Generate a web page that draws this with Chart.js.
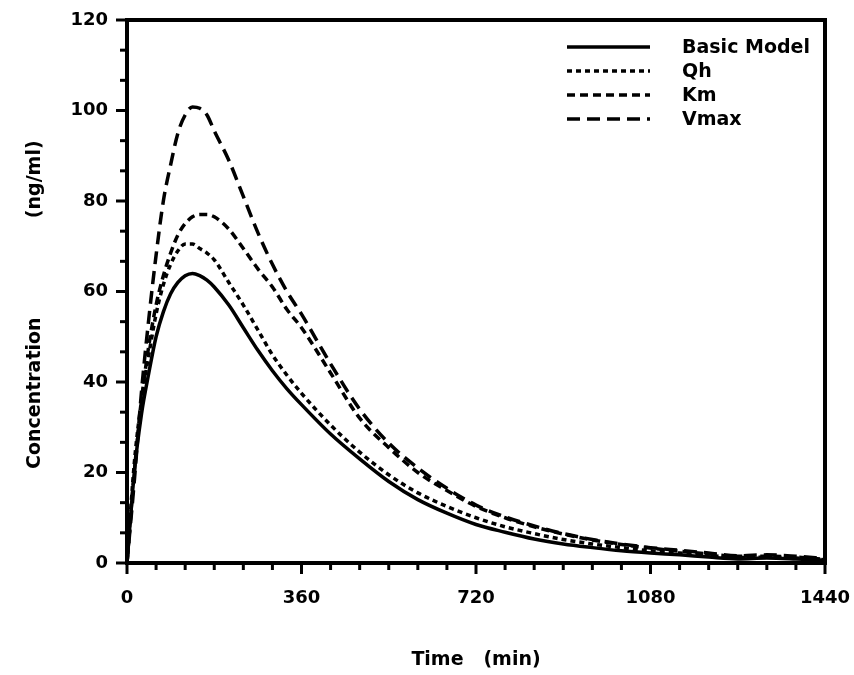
<!DOCTYPE html>
<html>
<head>
<meta charset="utf-8">
<script src="https://cdn.jsdelivr.net/npm/chart.js@4.4.1/dist/chart.umd.min.js"></script>
<style>
  html, body { margin: 0; padding: 0; background: #fff; }
</style>
</head>
<body>
<canvas id="concChart" width="854" height="675"></canvas>
<script>
// time points (min) and concentrations (ng/ml)
const timeMin = [0, 15, 30, 45, 60, 75, 90, 105, 120, 135, 150, 165, 180, 210, 240, 270, 300, 330, 360,
  420, 480, 540, 600, 660, 720, 780, 840, 900, 960, 1020, 1080, 1140, 1200, 1260, 1320, 1380, 1440];
const basicModel = [0, 20, 33, 42, 50, 55.5, 59.5, 62, 63.5, 64, 63.5, 62.5, 61, 57, 52, 47, 42.5, 38.5, 35,
  28.5, 23, 18, 14, 11, 8.5, 6.8, 5.3, 4.2, 3.4, 2.7, 2.2, 1.8, 1.3, 0.9, 1.1, 0.9, 0.6];
const qh = [0, 22, 36, 46, 55, 61.5, 66, 69, 70.5, 70.5, 69.5, 68.5, 67, 62, 57, 51.5, 46, 41.5, 37.5,
  30.5, 24.5, 19.5, 15.5, 12.5, 10, 8, 6.5, 5.2, 4.2, 3.4, 2.7, 2.2, 1.7, 1.2, 1.3, 1.1, 0.7];
const km = [0, 20, 36, 48, 57, 63.5, 68.5, 72.5, 75, 76.5, 77, 77, 76.5, 73.8, 69.5, 65, 61, 56, 52,
  42, 32, 25.5, 20, 16, 12.5, 10, 8, 6.4, 5.1, 4.1, 3.3, 2.6, 2, 1.5, 1.5, 1.3, 0.8];
const vmax = [0, 18, 38, 54, 68, 80, 88, 95, 99, 100.8, 100.5, 99, 95.5, 89, 81, 73, 66, 60, 55,
  44, 34, 26.5, 21, 16.5, 12.8, 10.2, 8.2, 6.5, 5.2, 4.2, 3.4, 2.8, 2.2, 1.6, 1.8, 1.5, 1];

const seriesNames = ['Basic Model', 'Qh', 'Km', 'Vmax'];
const xTicks = [0, 360, 720, 1080, 1440];
const yTicks = [0, 20, 40, 60, 80, 100, 120];

const FONT = 'DejaVu Sans';
Chart.defaults.font.family = FONT;
Chart.defaults.font.weight = 'bold';
Chart.defaults.font.size = 18;
Chart.defaults.color = '#000';

function makeSet(label, values, dash) {
  return {
    label: label,
    data: timeMin.map((t, i) => ({ x: t, y: values[i] })),
    borderColor: '#000',
    borderWidth: 3.5,
    borderDash: dash,
    borderCapStyle: 'butt',
    pointRadius: 0,
    fill: false,
    cubicInterpolationMode: 'monotone'
  };
}

// frame, outward ticks (major + minor) and the legend
const framePlugin = {
  id: 'frame',
  afterDraw(chart) {
    const ctx = chart.ctx;
    const area = chart.chartArea;
    const xs = chart.scales.x;
    const ys = chart.scales.y;
    ctx.save();
    ctx.strokeStyle = '#000';
    ctx.lineWidth = 4;
    ctx.setLineDash([]);
    ctx.strokeRect(area.left, area.top, area.right - area.left, area.bottom - area.top);

    ctx.lineWidth = 3;
    const tick = (x1, y1, x2, y2) => {
      ctx.beginPath();
      ctx.moveTo(x1, y1);
      ctx.lineTo(x2, y2);
      ctx.stroke();
    };
    xTicks.forEach((v, i) => {
      const px = xs.getPixelForValue(v);
      tick(px, area.bottom, px, area.bottom + 11);
      if (i < xTicks.length - 1) {
        const step = (xTicks[i + 1] - v) / 6;
        for (let k = 1; k < 6; k++) {
          const mx = xs.getPixelForValue(v + k * step);
          tick(mx, area.bottom, mx, area.bottom + 7);
        }
      }
    });
    yTicks.forEach((v, i) => {
      const py = ys.getPixelForValue(v);
      tick(area.left - 11, py, area.left, py);
      if (i < yTicks.length - 1) {
        const step = (yTicks[i + 1] - v) / 3;
        for (let k = 1; k < 3; k++) {
          const my = ys.getPixelForValue(v + k * step);
          tick(area.left - 7, my, area.left, my);
        }
      }
    });

    // legend
    ctx.font = 'bold 19px ' + FONT;
    ctx.textBaseline = 'middle';
    ctx.fillStyle = '#000';
    chart.data.datasets.forEach((ds, i) => {
      const y = 47 + i * 24;
      ctx.lineWidth = 3.5;
      ctx.setLineDash(ds.borderDash || []);
      tick(567, y, 650, y);
      ctx.fillText(ds.label, 682, y + 1);
    });
    ctx.restore();
  }
};

new Chart(document.getElementById('concChart'), {
  type: 'line',
  data: {
    datasets: [
      makeSet(seriesNames[0], basicModel, []),
      makeSet(seriesNames[1], qh, [5, 4]),
      makeSet(seriesNames[2], km, [8, 5]),
      makeSet(seriesNames[3], vmax, [13, 7])
    ]
  },
  options: {
    responsive: false,
    animation: false,
    devicePixelRatio: 1,
    layout: { padding: { top: 20, right: 29, left: 0, bottom: 0 } },
    plugins: {
      legend: { display: false },
      tooltip: { enabled: false }
    },
    scales: {
      x: {
        type: 'linear',
        min: 0,
        max: 1440,
        afterFit: (s) => { s.height = 112; s.paddingLeft = 0; s.paddingRight = 0; },
        afterBuildTicks: (s) => { s.ticks = xTicks.map(v => ({ value: v })); },
        border: { display: false },
        grid: { drawOnChartArea: false, tickLength: 11, tickColor: 'rgba(0,0,0,0)' },
        ticks: { maxRotation: 0, autoSkip: false, padding: 14, callback: (v) => String(v) },
        title: { display: true, text: 'Time   (min)', font: { size: 19 }, padding: { top: 0, bottom: 4 } }
      },
      y: {
        min: 0,
        max: 120,
        afterFit: (s) => { s.width = 127; s.paddingTop = 0; s.paddingBottom = 0; },
        afterBuildTicks: (s) => { s.ticks = yTicks.map(v => ({ value: v })); },
        border: { display: false },
        grid: { drawOnChartArea: false, tickLength: 11, tickColor: 'rgba(0,0,0,0)' },
        ticks: { padding: 8, callback: (v) => String(v) },
        title: {
          display: true,
          text: 'Concentration               (ng/ml)    ',
          font: { size: 19 },
          padding: { top: 24, bottom: 0 }
        }
      }
    }
  },
  plugins: [framePlugin]
});
</script>
</body>
</html>
